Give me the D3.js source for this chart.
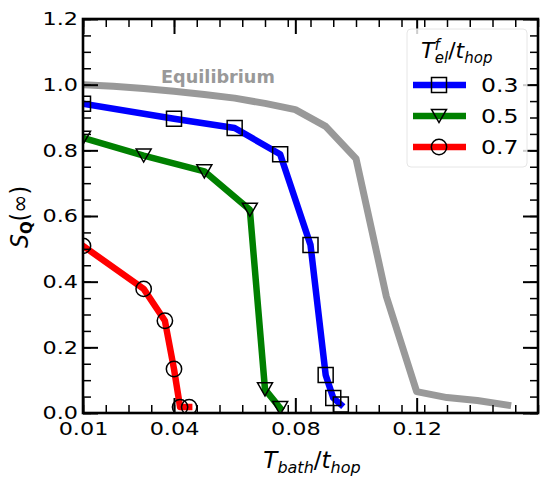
<!DOCTYPE html>
<html>
<head>
<meta charset="utf-8">
<script src="https://cdn.jsdelivr.net/npm/d3@7"></script>
<style>
  html, body { margin: 0; padding: 0; background: #fff; }
  text { font-family: "DejaVu Sans", sans-serif; }
</style>
</head>
<body>
<script>
// ---- data ----
const eqT    = [0.01, 0.02, 0.03, 0.04, 0.05, 0.06, 0.07, 0.08, 0.09, 0.10, 0.11, 0.12, 0.13, 0.14, 0.15];
const eqS    = [1.000, 0.995, 0.988, 0.980, 0.970, 0.959, 0.943, 0.924, 0.873, 0.775, 0.355, 0.065, 0.047, 0.038, 0.024];

const t03T   = [0.01, 0.04, 0.06, 0.075, 0.085, 0.09, 0.0925, 0.095];
const t03S   = [0.942, 0.896, 0.868, 0.788, 0.512, 0.116, 0.046, 0.026];

const t05T   = [0.01, 0.03, 0.05, 0.065, 0.07, 0.075];
const t05S   = [0.838, 0.784, 0.736, 0.619, 0.072, 0.015];

const t07T   = [0.01, 0.03, 0.037, 0.04, 0.042, 0.045];
const t07S   = [0.509, 0.378, 0.281, 0.134, 0.018, 0.018];

const seriesLabels = ['0.3', '0.5', '0.7'];
const xTickLabels  = [0.01, 0.04, 0.08, 0.12];
const yTickLabels  = [0.0, 0.2, 0.4, 0.6, 0.8, 1.0, 1.2];

// ---- layout ----
const W = 550, H = 479;
const plot = { left: 83, right: 538, top: 19, bottom: 413 };
const numStretch = 1.24;   // tick / legend numbers look wide in the picture

const svg = d3.select('body').append('svg').attr('width', W).attr('height', H);

const x = d3.scaleLinear().domain([0.01, 0.16]).range([plot.left, plot.right]);
const y = d3.scaleLinear().domain([0, 1.2]).range([plot.bottom, plot.top]);

const xMinor = d3.range(21).map(i => 0.01 + 0.0075 * i);
const yMinor = d3.range(25).map(i => i * 0.05);

/* -------- clip -------- */
svg.append('defs').append('clipPath').attr('id', 'plotClip')
  .append('rect')
  .attr('x', plot.left).attr('y', plot.top)
  .attr('width', plot.right - plot.left).attr('height', plot.bottom - plot.top);

/* -------- series -------- */
const triDown = {
  draw(ctx, size) {
    const h = Math.sqrt(size) / 2;
    ctx.moveTo(-h, -h * 0.87);
    ctx.lineTo(h, -h * 0.87);
    ctx.lineTo(0, h * 0.87);
    ctx.closePath();
  }
};

const series = [
  { T: t03T, S: t03S, color: '#0000ff', symbol: d3.symbolSquare, size: 225 },
  { T: t05T, S: t05S, color: '#008000', symbol: triDown,         size: 225 },
  { T: t07T, S: t07S, color: '#ff0000', symbol: d3.symbolCircle, size: 185 }
];

const line = d3.line().x(d => x(d[0])).y(d => y(d[1]));
const plotG = svg.append('g').attr('clip-path', 'url(#plotClip)');

plotG.append('path')
  .attr('d', line(d3.zip(eqT, eqS)))
  .attr('fill', 'none').attr('stroke', '#999999')
  .attr('stroke-width', 7).attr('stroke-linejoin', 'round').attr('stroke-linecap', 'square');

series.forEach(s => {
  const pts = d3.zip(s.T, s.S);
  plotG.append('path')
    .attr('d', line(pts))
    .attr('fill', 'none').attr('stroke', s.color)
    .attr('stroke-width', 6.5).attr('stroke-linejoin', 'round').attr('stroke-linecap', 'square');
  plotG.selectAll(null).data(pts).enter().append('path')
    .attr('transform', d => `translate(${x(d[0])},${y(d[1])})`)
    .attr('d', d3.symbol(s.symbol, s.size))
    .attr('fill', 'none').attr('stroke', '#000').attr('stroke-width', 1.5);
});

svg.append('text')
  .attr('transform', 'translate(161,82.7) scale(1.04,1)')
  .attr('font-size', 17).attr('font-weight', 'bold').attr('fill', '#999999')
  .text('Equilibrium');

/* -------- axes (ticks inward on all sides) -------- */
function ticks(axisFn, scale, pos, values, len, width) {
  const g = svg.append('g').attr('transform', pos)
    .call(axisFn(scale).tickValues(values).tickSize(-len).tickFormat(''));
  g.select('.domain').remove();
  g.selectAll('line').attr('stroke', '#000').attr('stroke-width', width);
  return g;
}
ticks(d3.axisBottom, x, `translate(0,${plot.bottom})`, xMinor, 8, 1.5);
ticks(d3.axisTop,    x, `translate(0,${plot.top})`,    xMinor, 8, 1.5);
ticks(d3.axisTop,    x, `translate(0,${plot.top})`,    xTickLabels, 15, 2);
ticks(d3.axisLeft,   y, `translate(${plot.left},0)`,   yMinor, 8, 1.5);
ticks(d3.axisRight,  y, `translate(${plot.right},0)`,  yMinor, 8, 1.5);
ticks(d3.axisRight,  y, `translate(${plot.right},0)`,  yTickLabels, 15, 2);

const xAxisG = svg.append('g').attr('transform', `translate(0,${plot.bottom})`)
  .call(d3.axisBottom(x).tickValues(xTickLabels).tickSize(-15).tickPadding(9)
    .tickFormat(d3.format('.2f')));
xAxisG.select('.domain').remove();
xAxisG.selectAll('line').attr('stroke', '#000').attr('stroke-width', 2);
xAxisG.selectAll('text')
  .attr('fill', '#000').attr('font-size', 18).attr('font-family', '"DejaVu Sans"')
  .attr('transform', `scale(${numStretch},1)`);

const yAxisG = svg.append('g').attr('transform', `translate(${plot.left},0)`)
  .call(d3.axisLeft(y).tickValues(yTickLabels).tickSize(-15).tickFormat(d3.format('.1f')));
yAxisG.select('.domain').remove();
yAxisG.selectAll('line').attr('stroke', '#000').attr('stroke-width', 2);
yAxisG.selectAll('text')
  .attr('fill', '#000').attr('font-size', 18).attr('font-family', '"DejaVu Sans"')
  .attr('x', -5 / numStretch)
  .attr('transform', `scale(${numStretch},1)`);

/* -------- spines -------- */
svg.append('rect')
  .attr('x', plot.left).attr('y', plot.top)
  .attr('width', plot.right - plot.left).attr('height', plot.bottom - plot.top)
  .attr('fill', 'none').attr('stroke', '#000').attr('stroke-width', 2.6);

/* -------- axis titles -------- */
const xl = svg.append('text')
  .attr('x', 312).attr('y', 468).attr('text-anchor', 'middle')
  .attr('font-size', 23).attr('font-style', 'italic');
xl.append('tspan').text('T');
xl.append('tspan').attr('font-size', 16).attr('dy', 4.5).text('bath');
xl.append('tspan').attr('font-style', 'normal').attr('dy', -4.5).text('/');
xl.append('tspan').text('t');
xl.append('tspan').attr('font-size', 16).attr('dy', 4.5).text('hop');

const yl = svg.append('text')
  .attr('transform', 'translate(28,217) scale(1.1,1) rotate(-90)')
  .attr('text-anchor', 'middle').attr('font-size', 22);
yl.append('tspan').attr('font-style', 'italic').text('S');
yl.append('tspan').attr('font-size', 15).attr('font-weight', 'bold').attr('dy', 4).text('Q');
yl.append('tspan').attr('dy', -4).text('(\u221e)');

/* -------- legend -------- */
const leg = svg.append('g');
leg.append('rect')
  .attr('x', 407).attr('y', 29).attr('width', 120).attr('height', 138).attr('rx', 4)
  .attr('fill', '#fff').attr('fill-opacity', 0.8)
  .attr('stroke', '#e6e6e6').attr('stroke-width', 1);

const lt = leg.append('text')
  .attr('x', 421).attr('y', 58)
  .attr('font-size', 22).attr('font-style', 'italic');
lt.append('tspan').text('T');
lt.append('tspan').attr('font-size', 15).attr('dy', -8.5).text('f');
lt.append('tspan').attr('font-size', 15).attr('dx', -5).attr('dy', 13).text('el');
lt.append('tspan').attr('font-style', 'normal').attr('dy', -4.5).text('/');
lt.append('tspan').text('t');
lt.append('tspan').attr('font-size', 15).attr('dy', 4.5).text('hop');

const rowY = d3.scalePoint().domain(seriesLabels).range([85, 147]);
series.forEach((s, i) => {
  const ry = rowY(seriesLabels[i]);
  leg.append('line')
    .attr('x1', 413).attr('x2', 466).attr('y1', ry).attr('y2', ry)
    .attr('stroke', s.color).attr('stroke-width', 6.5);
  leg.append('path')
    .attr('transform', `translate(439,${ry})`)
    .attr('d', d3.symbol(s.symbol, s.size))
    .attr('fill', 'none').attr('stroke', '#000').attr('stroke-width', 1.5);
  leg.append('text')
    .attr('transform', `translate(481,${ry + 7}) scale(${numStretch},1)`)
    .attr('font-size', 19)
    .text(seriesLabels[i]);
});
</script>
</body>
</html>
